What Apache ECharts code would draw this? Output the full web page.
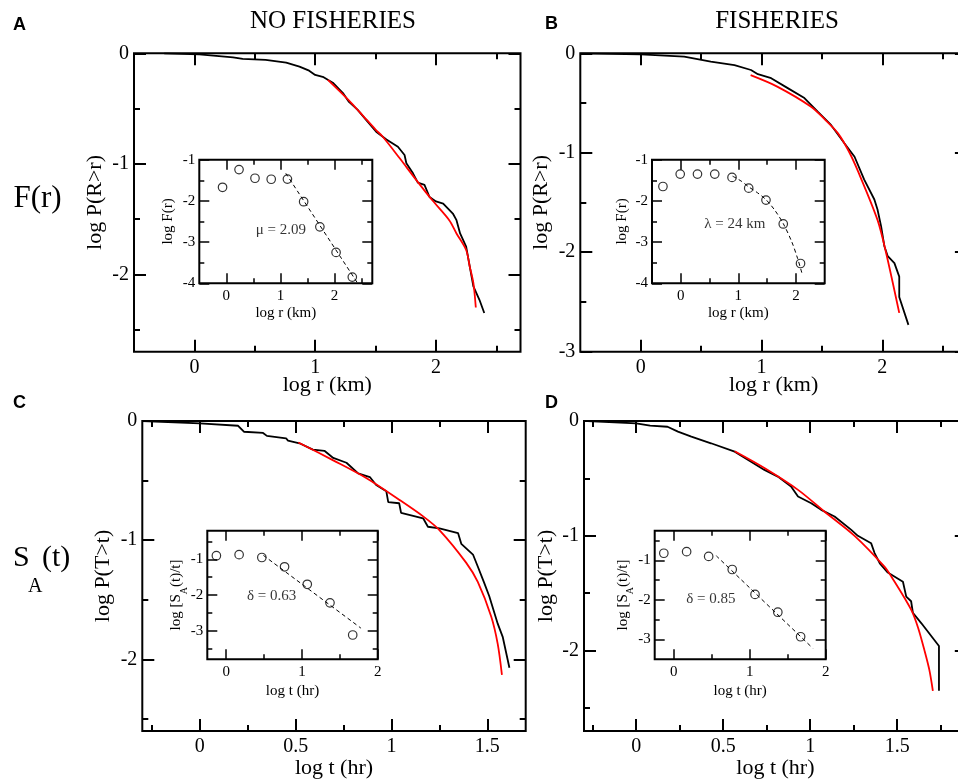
<!DOCTYPE html>
<html><head><meta charset="utf-8">
<script src="https://cdn.jsdelivr.net/npm/echarts@6/dist/echarts.min.js"></script>
<style>html,body{margin:0;padding:0;background:#fff}#c{width:958px;height:781px}</style>
</head><body><div id="c"></div>
<script>
// ================= DATA =================
// Panel A : NO FISHERIES, F(r)
const aObserved = [[-0.25,0],[0.04,-0.01],[0.32,-0.036],[0.4,-0.05],[0.59,-0.06],[0.76,-0.085],[0.87,-0.12],[0.95,-0.157],[1.0,-0.196],[1.07,-0.216],[1.146,-0.266],[1.23,-0.36],[1.28,-0.44],[1.35,-0.51],[1.42,-0.6],[1.505,-0.71],[1.59,-0.78],[1.685,-0.845],[1.74,-0.92],[1.755,-0.995],[1.81,-1.086],[1.85,-1.17],[1.905,-1.19],[1.947,-1.3],[2.0,-1.34],[2.06,-1.36],[2.14,-1.45],[2.17,-1.51],[2.2,-1.63],[2.25,-1.75],[2.28,-1.93],[2.31,-2.11],[2.36,-2.23],[2.4,-2.35]];
const aFit = [[1.105,-0.24],[1.2,-0.34],[1.3,-0.45],[1.4,-0.57],[1.5,-0.69],[1.56,-0.755],[1.7,-0.95],[1.836,-1.145],[1.97,-1.33],[2.11,-1.51],[2.17,-1.63],[2.25,-1.78],[2.28,-1.93],[2.31,-2.08],[2.33,-2.3]];
const aInsetX = [-0.07,0.235,0.53,0.83,1.13,1.43,1.73,2.03,2.33];
const aInsetY = [-1.67,-1.24,-1.45,-1.475,-1.47,-2.02,-2.63,-3.25,-3.85];
const aInsetFit = [[1.1,-1.33],[2.43,-4.0]];
const aInsetNote = {text:'\u03bc = 2.09', at:[1.01,-2.71]};

// Panel B : FISHERIES, F(r)
const bObserved = [[-0.5,0],[0,-0.01],[0.36,-0.034],[0.58,-0.084],[0.776,-0.118],[0.913,-0.168],[0.97,-0.21],[1.08,-0.25],[1.217,-0.35],[1.355,-0.45],[1.465,-0.587],[1.575,-0.72],[1.686,-0.905],[1.77,-1.04],[1.85,-1.27],[1.934,-1.47],[1.96,-1.57],[1.99,-1.74],[2.017,-1.94],[2.045,-2.04],[2.1,-2.11],[2.14,-2.245],[2.14,-2.45],[2.216,-2.73]];
const bFit = [[0.91,-0.22],[1.13,-0.335],[1.41,-0.537],[1.52,-0.66],[1.63,-0.8],[1.72,-0.98],[1.8,-1.19],[1.96,-1.675],[2.03,-2.0],[2.14,-2.61]];
const bInsetX = [-0.31,-0.01,0.29,0.59,0.89,1.18,1.48,1.78,2.08];
const bInsetY = [-1.65,-1.35,-1.35,-1.35,-1.43,-1.69,-1.98,-2.56,-3.52];
const bInsetFit = [[0.9,-1.4],[1.05,-1.52],[1.18,-1.66],[1.33,-1.8],[1.48,-1.97],[1.63,-2.22],[1.78,-2.55],[1.93,-3.0],[2.03,-3.4],[2.11,-3.78]];
const bInsetNote = {text:'\u03bb = 24 km', at:[0.94,-2.56]};

// Panel C : NO FISHERIES, S_A(t)
const cObserved = [[-0.3,0],[0,-0.02],[0.2,-0.04],[0.23,-0.09],[0.33,-0.1],[0.35,-0.125],[0.45,-0.145],[0.46,-0.165],[0.52,-0.187],[0.59,-0.24],[0.65,-0.25],[0.696,-0.31],[0.765,-0.35],[0.826,-0.44],[0.887,-0.47],[0.92,-0.537],[0.973,-0.59],[0.983,-0.68],[1.04,-0.69],[1.05,-0.77],[1.165,-0.816],[1.19,-0.887],[1.25,-0.9],[1.347,-0.94],[1.364,-1.03],[1.425,-1.12],[1.45,-1.22],[1.484,-1.36],[1.51,-1.47],[1.554,-1.7],[1.58,-1.81],[1.615,-2.07]];
const cFit = [[0.514,-0.18],[0.696,-0.33],[0.87,-0.48],[1.04,-0.66],[1.165,-0.8],[1.25,-0.915],[1.39,-1.19],[1.45,-1.35],[1.52,-1.64],[1.554,-1.87],[1.576,-2.13]];
const cInsetX = [-0.13,0.17,0.47,0.77,1.07,1.37,1.67];
const cInsetY = [-0.9,-0.87,-0.95,-1.21,-1.7,-2.22,-3.12];
const cInsetFit = [[0.49,-0.89],[1.78,-2.93]];
const cInsetNote = {text:'\u03b4 = 0.63', at:[0.6,-2.04]};

// Panel D : FISHERIES, S_A(t)
const dObserved = [[-0.28,0],[0,-0.02],[0.08,-0.04],[0.18,-0.05],[0.24,-0.093],[0.317,-0.136],[0.43,-0.194],[0.566,-0.267],[0.66,-0.354],[0.737,-0.426],[0.814,-0.484],[0.89,-0.57],[0.93,-0.658],[1.006,-0.716],[1.063,-0.774],[1.14,-0.832],[1.236,-0.948],[1.274,-1.0],[1.35,-1.064],[1.37,-1.15],[1.4,-1.24],[1.446,-1.32],[1.533,-1.4],[1.552,-1.53],[1.58,-1.57],[1.59,-1.67],[1.638,-1.76],[1.74,-1.96],[1.74,-2.35]];
const dFit = [[0.566,-0.264],[0.737,-0.41],[0.93,-0.6],[1.083,-0.79],[1.255,-1.0],[1.428,-1.27],[1.466,-1.354],[1.58,-1.643],[1.62,-1.8],[1.657,-2.0],[1.685,-2.17],[1.705,-2.35]];
const dInsetX = [-0.13,0.17,0.46,0.77,1.07,1.37,1.67];
const dInsetY = [-0.82,-0.78,-0.9,-1.23,-1.86,-2.31,-2.93];
const dInsetFit = [[0.56,-0.885],[1.83,-3.22]];
const dInsetNote = {text:'\u03b4 = 0.85', at:[0.49,-1.97]};

// Axis ranges and tick values
const rAxisMain = [-0.5, 2.7], rMajorMain = [0,1,2], rMinorMain = [0.5,1.5,2.5];
const tAxisC = [-0.3, 1.7], tAxisD = [-0.3, 1.9], tMajorMain = [0,0.5,1,1.5];
const tMinorC = [-0.25,0.25,0.75,1.25], tMinorD = [-0.25,0.25,0.75,1.25,1.75];
const pAxisA = [-2.7, 0], pAxisB = [-3, 0], pAxisC = [-2.6, 0], pAxisD = [-2.7, 0];
const pMajorABC = [0,-1,-2], pMajorB = [0,-1,-2,-3], pMinorMain = [-0.5,-1.5,-2.5];
const insetRA = [-0.5, 2.7], insetRB = [-0.5, 2.5], insetRMajor = [0,1,2];
const insetRMinorA = [0.5,1.5,2.5], insetRMinorB = [0.5,1.5];
const insetFAxis = [-4,-1], insetFMajor = [-1,-2,-3,-4], insetFMinor = [-1.5,-2.5,-3.5];
const insetTAxis = [-0.25, 2], insetTMajor = [0,1,2], insetTMinor = [0.5,1.5];
const insetSAxisC = [-3.8,-0.2], insetSAxisD = [-3.5,-0.25];
const insetSMajor = [-1,-2,-3], insetSMinorC = [-0.5,-1.5,-2.5,-3.5], insetSMinorD = [-0.5,-1.5,-2.5];

// ================= BUILD =================
const FONT = '"Liberation Serif","Times New Roman",Times,serif';
const SANS = '"Liberation Sans",Arial,Helvetica,sans-serif';
const grids = [], xAxes = [], yAxes = [], series = [];

function makeAxes(dim, gi, cfg){
  const isX = dim === 'x';
  const range = isX ? cfg.xr : cfg.yr;
  const maj = isX ? cfg.xMaj : cfg.yMaj, mnr = isX ? cfg.xMin : cfg.yMin;
  const sides = isX ? ['bottom','top'] : ['left','right'];
  const list = isX ? xAxes : yAxes;
  const first = list.length;
  sides.forEach((side, si) => {
    [[maj, cfg.majLen],[mnr, cfg.minLen]].forEach(([vals, len], mi) => {
      const ax = {type:'value', gridIndex:gi, position:side, min:range[0], max:range[1],
        axisLine:{show:false, onZero:false}, splitLine:{show:false}, splitArea:{show:false},
        axisTick:{show: vals.length > 0, inside:true, length:len, customValues:vals,
                  lineStyle:{color:'#000', width:cfg.tickW}},
        axisLabel:{show:false}, silent:true, z:5};
      if (si === 0 && mi === 0) {
        ax.axisLabel = {show:true, customValues:maj, fontFamily:FONT, fontSize:cfg.labelSize,
          color:'#000', margin: isX ? cfg.xLabelMargin : cfg.yLabelMargin, hideOverlap:false};
        ax.name = isX ? cfg.xName : cfg.yName;
        ax.nameLocation = 'middle';
        ax.nameGap = isX ? cfg.xNameGap : cfg.yNameGap;
        ax.nameMoveOverlap = false;
        ax.nameTextStyle = {fontFamily:FONT, fontSize:cfg.nameSize, color:'#000'};
        if (!isX && cfg.yRich) ax.nameTextStyle.rich = cfg.yRich;
      }
      list.push(ax);
    });
  });
  return first;
}

function addPanel(cfg){
  const gi = grids.length;
  grids.push(Object.assign({show:true, borderColor:'#000', borderWidth:cfg.frameW,
    backgroundColor:'transparent', containLabel:false, outerBoundsMode:'none'}, cfg.box));
  const xi = makeAxes('x', gi, cfg);
  const yi = makeAxes('y', gi, cfg);
  return {xi, yi};
}

const mainStyle = {majLen:12, minLen:6, frameW:2, tickW:2, labelSize:20, nameSize:22,
                   xLabelMargin:6, yLabelMargin:5};
const insetStyle = {majLen:10, minLen:5, frameW:2, tickW:1.5, labelSize:15, nameSize:15,
                    xLabelMargin:5, yLabelMargin:4};
const subRich = {n:{fontFamily:FONT, fontSize:15, color:'#000'},
                 s:{fontFamily:FONT, fontSize:10, color:'#000', padding:[16,0,0,0]}};
const subName = '{n|log [S}{s|A}{n|(t)/t]}';

const panels = [
  {main: Object.assign({box:{left:134, top:53.3, right:437.5, bottom:429.3},
      xr:rAxisMain, xMaj:rMajorMain, xMin:rMinorMain, yr:pAxisA, yMaj:pMajorABC, yMin:pMinorMain,
      xName:'log r (km)', yName:'log P(R>r)', xNameGap:23, yNameGap:28}, mainStyle),
   inset: Object.assign({box:{left:199.3, top:159.7, right:585.7, bottom:497.7},
      xr:insetRA, xMaj:insetRMajor, xMin:insetRMinorA, yr:insetFAxis, yMaj:insetFMajor, yMin:insetFMinor,
      xName:'log r (km)', yName:'log F(r)', xNameGap:22, yNameGap:24}, insetStyle),
   obs:aObserved, fit:aFit, ix:aInsetX, iy:aInsetY, ifit:aInsetFit, note:aInsetNote},
  {main: Object.assign({box:{left:580.3, top:53.3, right:-8.9, bottom:429.3},
      xr:rAxisMain, xMaj:rMajorMain, xMin:rMinorMain, yr:pAxisB, yMaj:pMajorB, yMin:pMinorMain,
      xName:'log r (km)', yName:'log P(R>r)', xNameGap:23, yNameGap:28}, mainStyle),
   inset: Object.assign({box:{left:652, top:159.7, right:133.3, bottom:497.7},
      xr:insetRB, xMaj:insetRMajor, xMin:insetRMinorB, yr:insetFAxis, yMaj:insetFMajor, yMin:insetFMinor,
      xName:'log r (km)', yName:'log F(r)', xNameGap:22, yNameGap:22}, insetStyle),
   obs:bObserved, fit:bFit, ix:bInsetX, iy:bInsetY, ifit:bInsetFit, note:bInsetNote},
  {main: Object.assign({box:{left:142.3, top:421, right:432.3, bottom:50}},
      {xr:tAxisC, xMaj:tMajorMain, xMin:tMinorC, yr:pAxisC, yMaj:pMajorABC, yMin:pMinorMain,
      xName:'log t (hr)', yName:'log P(T>t)', xNameGap:26, yNameGap:28}, mainStyle),
   inset: Object.assign({box:{left:207.3, top:530.7, right:580.3, bottom:121.7},
      xr:insetTAxis, xMaj:insetTMajor, xMin:insetTMinor, yr:insetSAxisC, yMaj:insetSMajor, yMin:insetSMinorC,
      xName:'log t (hr)', yName:subName, yRich:subRich, xNameGap:24, yNameGap:18}, insetStyle),
   obs:cObserved, fit:cFit, ix:cInsetX, iy:cInsetY, ifit:cInsetFit, note:cInsetNote},
  {main: Object.assign({box:{left:584, top:421, right:-8.8, bottom:50}},
      {xr:tAxisD, xMaj:tMajorMain, xMin:tMinorD, yr:pAxisD, yMaj:pMajorABC, yMin:pMinorMain,
      xName:'log t (hr)', yName:'log P(T>t)', xNameGap:26, yNameGap:27}, mainStyle),
   inset: Object.assign({box:{left:654.7, top:530.7, right:132.3, bottom:121.7},
      xr:insetTAxis, xMaj:insetTMajor, xMin:insetTMinor, yr:insetSAxisD, yMaj:insetSMajor, yMin:insetSMinorD,
      xName:'log t (hr)', yName:subName, yRich:subRich, xNameGap:24, yNameGap:19}, insetStyle),
   obs:dObserved, fit:dFit, ix:dInsetX, iy:dInsetY, ifit:dInsetFit, note:dInsetNote}
];

panels.forEach(p => {
  const m = addPanel(p.main);
  series.push({type:'line', xAxisIndex:m.xi, yAxisIndex:m.yi, data:p.obs, symbol:'none',
    lineStyle:{color:'#000', width:1.8}, z:3});
  series.push({type:'line', xAxisIndex:m.xi, yAxisIndex:m.yi, data:p.fit, symbol:'none',
    smooth:0.3, lineStyle:{color:'#ff0000', width:1.8}, z:4});
  const s = addPanel(p.inset);
  series.push({type:'line', xAxisIndex:s.xi, yAxisIndex:s.yi, data:p.ifit, symbol:'none',
    smooth:0.3, lineStyle:{color:'#000', width:1, type:[4,3]}, z:3});
  series.push({type:'scatter', xAxisIndex:s.xi, yAxisIndex:s.yi,
    data:p.ix.map((x,i)=>[x,p.iy[i]]), symbol:'circle', symbolSize:8.5,
    itemStyle:{color:'rgba(0,0,0,0)', borderColor:'#000', borderWidth:1.2}, z:4});
  series.push({type:'scatter', xAxisIndex:s.xi, yAxisIndex:s.yi, data:[p.note.at],
    symbolSize:0.1, itemStyle:{color:'rgba(0,0,0,0)'},
    label:{show:true, position:'inside', formatter:p.note.text, fontFamily:FONT, fontSize:15, color:'#000'}, z:5});
});

function txt(x, y, text, font, align){
  return {type:'text', x:x, y:y, silent:true,
    style:{text:text, font:font, fill:'#000', textAlign:align||'center', textVerticalAlign:'middle',
           align:align||'center', verticalAlign:'middle'}};
}
const graphic = [
  txt(13, 25, 'A', 'bold 18px '+SANS, 'left'),
  txt(545, 24, 'B', 'bold 18px '+SANS, 'left'),
  txt(13, 403, 'C', 'bold 18px '+SANS, 'left'),
  txt(545, 403, 'D', 'bold 18px '+SANS, 'left'),
  txt(333, 21, 'NO FISHERIES', '25px '+FONT),
  txt(777, 21, 'FISHERIES', '25px '+FONT),
  txt(37.5, 199, 'F(r)', '31px '+FONT),
  txt(13, 558.5, 'S', '30px '+FONT, 'left'),
  txt(28, 586.5, 'A', '20px '+FONT, 'left'),
  txt(42, 558.5, '(t)', '30px '+FONT, 'left')
];

const chart = echarts.init(document.getElementById('c'), null, {renderer:'canvas'});
chart.setOption({animation:false, backgroundColor:'#fff', grid:grids, xAxis:xAxes, yAxis:yAxes,
  series:series, graphic:graphic});
</script></body></html>
